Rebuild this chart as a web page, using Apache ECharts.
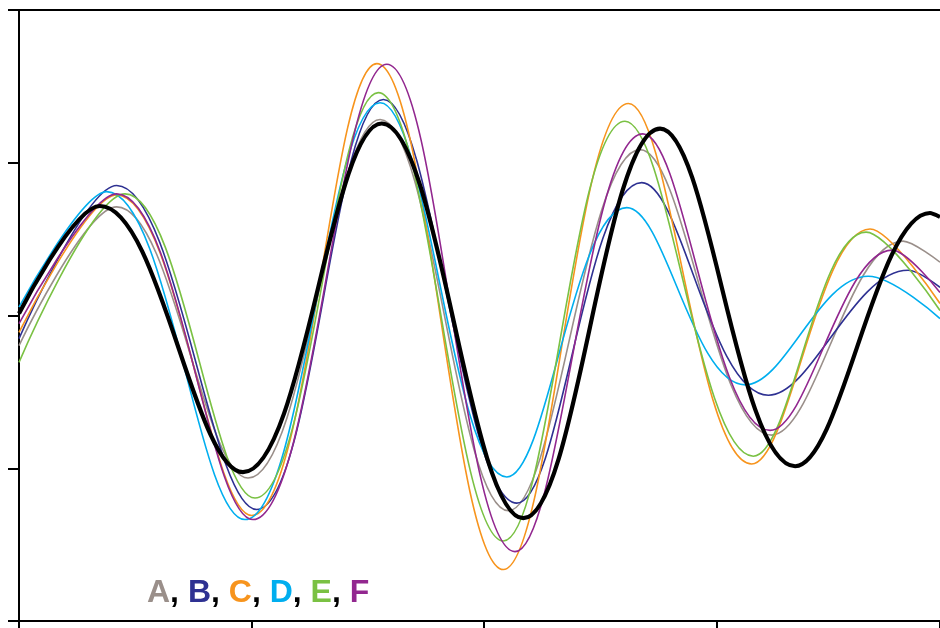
<!DOCTYPE html>
<html>
<head>
<meta charset="utf-8">
<script src="https://cdn.jsdelivr.net/npm/echarts@6/dist/echarts.min.js"></script>
<style>
  html, body { margin: 0; padding: 0; background: #fff; }
  #chart { width: 940px; height: 628px; }
</style>
</head>
<body>
<div id="chart"></div>
<script>
// Curve samples as [x, y]: start, successive peaks/troughs, end
const seriesA = [[0, -0.197], [0.420, 0.711], [0.985, -1.064], [1.553, 1.283], [2.105, -1.278], [2.671, 1.086], [3.237, -0.783], [3.802, 0.487], [3.961, 0.349]];
const seriesB = [[0, -0.151], [0.420, 0.851], [1.022, -1.270], [1.567, 1.414], [2.141, -1.228], [2.678, 0.870], [3.223, -0.522], [3.824, 0.296], [3.961, 0.184]];
const seriesC = [[0, -0.110], [0.420, 0.789], [1.001, -1.309], [1.539, 1.649], [2.083, -1.663], [2.621, 1.388], [3.151, -0.972], [3.660, 0.566], [3.961, 0.079]];
const seriesD = [[0, 0.055], [0.377, 0.811], [0.972, -1.336], [1.553, 1.393], [2.098, -1.057], [2.614, 0.706], [3.123, -0.454], [3.652, 0.257], [3.961, -0.020]];
const seriesE = [[0, -0.307], [0.456, 0.796], [1.015, -1.195], [1.545, 1.459], [2.083, -1.476], [2.606, 1.272], [3.158, -0.921], [3.643, 0.546], [3.961, 0.033]];
const seriesF = [[0, -0.053], [0.420, 0.796], [1.006, -1.336], [1.582, 1.645], [2.133, -1.546], [2.683, 1.189], [3.230, -0.752], [3.755, 0.428], [3.961, 0.151]];
const seriesRef = [[0, 0.013], [0.348, 0.717], [0.963, -1.026], [1.560, 1.257], [2.169, -1.327], [2.757, 1.224], [3.338, -0.987], [3.918, 0.671], [3.961, 0.645]];

const names = ['A', 'B', 'C', 'D', 'E', 'F'];
const colors = ['#9a8f8a', '#2e3192', '#f7941d', '#00aeef', '#7ac143', '#92278f'];
const thinData = [seriesA, seriesB, seriesC, seriesD, seriesE, seriesF];
const X_MAX = 3.961;

const chart = echarts.init(document.getElementById('chart'), null, { renderer: 'canvas' });

const SMOOTH = 0.38;
const series = thinData.map((d, i) => ({
  name: names[i],
  type: 'line',
  data: d,
  smooth: SMOOTH,
  showSymbol: false,
  lineStyle: { color: colors[i], width: 1.6 },
  z: 2
}));
series.push({
  name: 'ref',
  type: 'line',
  data: seriesRef,
  smooth: SMOOTH,
  showSymbol: false,
  lineStyle: { color: '#000', width: 4.2 },
  z: 3
});

const FONT = 'Liberation Sans, Arial, sans-serif';
const rich = {};
names.forEach((n, i) => {
  rich[n] = { fontFamily: FONT, fontWeight: 'bold', fontSize: 32, fill: colors[i] };
});
rich.c = { fontFamily: FONT, fontWeight: 'bold', fontSize: 32, fill: '#000' };
const legendText = names.map((n, i) => '{' + n + '|' + n + '}' + (i < names.length - 1 ? '{c|, }' : '')).join('');

const axisLine = { show: true, onZero: false, lineStyle: { color: '#000', width: 2 } };

chart.setOption({
  animation: false,
  backgroundColor: '#fff',
  grid: { left: 19, top: 10, right: 0, bottom: 7 },
  xAxis: [{
    type: 'value', min: 0, max: X_MAX, interval: 1, position: 'bottom',
    axisLine: axisLine,
    axisTick: { show: true, inside: false, length: 10, lineStyle: { color: '#000', width: 2 } },
    axisLabel: { show: false },
    splitLine: { show: false }
  }, {
    type: 'value', min: 0, max: X_MAX, position: 'top',
    axisLine: axisLine,
    axisTick: { show: false },
    axisLabel: { show: false },
    splitLine: { show: false }
  }],
  yAxis: {
    type: 'value', min: -2, max: 2, interval: 1,
    axisLine: axisLine,
    axisTick: { show: true, inside: false, length: 11, lineStyle: { color: '#000', width: 2 } },
    axisLabel: { show: false },
    splitLine: { show: false }
  },
  graphic: [{
    type: 'text',
    z: 10,
    style: {
      x: 147, y: 593,
      text: legendText,
      rich: rich,
      verticalAlign: 'middle'
    }
  }],
  series: series
});
</script>
</body>
</html>
